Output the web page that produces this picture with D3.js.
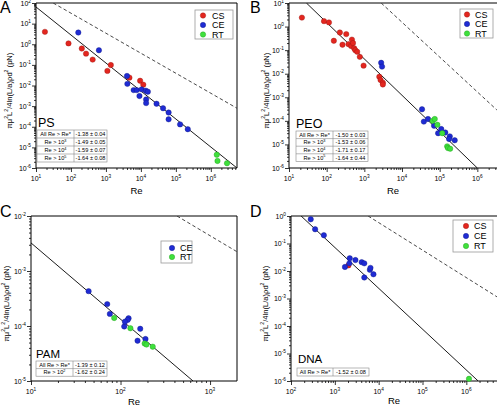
<!DOCTYPE html>
<html><head><meta charset="utf-8">
<script src="https://cdnjs.cloudflare.com/ajax/libs/d3/7.8.5/d3.min.js"></script>
<style>
body{margin:0;background:#fff}
svg{display:block}
text{font-family:"Liberation Sans",Arial,Helvetica,sans-serif;fill:#000}
</style>
</head><body>
<svg id="chart" width="497" height="406"></svg>
<script>
// ---------------- DATA ----------------
const seriesNames = ["CS", "CE", "RT"];
// Panel A: PS   [Re, value]
const psCS = [[18,4.0],[85,1.1],[204,0.62],[270,0.35],[417,0.18],[1100,0.051],[1380,0.098],[4700,0.024],[9500,0.017],[11700,0.011]];
const psCE = [[162,3.7],[630,0.51],[4000,0.029],[4100,0.012],[6200,0.006],[7600,0.006],[9100,0.0031],[10500,0.0065],[13800,0.0056],[15800,0.005],[14100,0.0021],[14100,0.0014],[28000,0.0013],[43000,0.00079],[62000,0.00049],[62000,0.00023],[132000,0.00013],[219000,0.000076]];
const psRT = [[1.48e6,4.4e-6],[1.55e6,2.2e-6],[2.9e6,1.7e-6]];
const psFit = [[10,64],[5.6e6,1e-6]];
const psRef = [[31,100],[5.6e6,7.9e-4]];
const psRows = ["All Re > Re*", "Re > 10^3", "Re > 10^4", "Re > 10^5"];
const psSlopes = ["-1.38 ± 0.04", "-1.49 ± 0.05", "-1.59 ± 0.07", "-1.64 ± 0.08"];

// Panel B: PEO
const peoCS = [[22,2.4],[85,1.7],[115,1.5],[155,0.25],[224,0.56],[263,0.17],[331,0.48],[380,0.18],[447,0.15],[468,0.28],[501,0.2],[537,0.12],[575,0.1],[646,0.085],[759,0.052],[955,0.022],[2500,0.0074],[2700,0.0054],[3100,0.0042],[3100,0.0035]];
const peoCE = [[2800,0.029],[2950,0.02],[34000,0.00031],[38000,0.000093],[49000,0.00012],[71000,0.000062],[91000,0.00003],[110000,0.000045],[141000,0.000032],[186000,0.000022],[178000,0.000017],[251000,0.000015]];
const peoRT = [[65000,0.0001],[74000,0.00012],[87000,0.000068],[117000,0.00003],[158000,0.0000083],[166000,0.000007],[190000,0.0000066]];
const peoFit = [[29,10],[1e6,1e-6]];
const peoRef = [[2800,10],[3.3e6,2.9e-4]];
const peoRows = ["All Re > Re*", "Re > 10^3", "Re > 10^4", "Re > 10^5"];
const peoSlopes = ["-1.50 ± 0.03", "-1.53 ± 0.06", "-1.71 ± 0.17", "-1.64 ± 0.44"];

// Panel C: PAM
const pamCE = [[44,0.00043],[71,0.00025],[76,0.000166],[110,0.000098],[123,0.000138],[120,0.000129],[112,0.00012],[166,0.000089],[155,0.000054],[190,0.000058]];
const pamRT = [[85,0.00014],[129,0.000091],[186,0.000048],[195,0.000046],[229,0.000042]];
const pamFit = [[10,0.00324],[646,1e-5]];
const pamRef = [[427,0.01],[2000,0.00224]];
const pamRows = ["All Re > Re*", "Re > 10^2"];
const pamSlopes = ["-1.39 ± 0.12", "-1.62 ± 0.24"];

// Panel D: DNA
const dnaCS = [[2040,0.016]];
const dnaCE = [[282,0.76],[355,0.33],[562,0.2],[1700,0.014],[2140,0.019],[2190,0.029],[2950,0.025],[4100,0.021],[4700,0.019],[4700,0.0058],[6300,0.011],[6500,0.013],[7600,0.0076]];
const dnaRT = [[1.15e6,1.2e-6]];
const dnaFit = [[170,1],[1.86e6,1e-6]];
const dnaRef = [[5750,1],[5e6,0.00115]];
const dnaRows = ["All Re > Re*"];
const dnaSlopes = ["-1.52 ± 0.08"];

// ---------------- STYLE / LAYOUT ----------------
const colors = {CS:"#e3261f", CE:"#1f2bd4", RT:"#3fe03c"};
const strokeColors = {CS:"#9a1410", CE:"#101a80", RT:"#1f9a1c"};

const panels = [
  {letter:"A", name:"PS", left:36, right:237, top:3, bottom:168, xDom:[10,5.6e6], yDom:[1e-6,100],
   series:{CS:psCS, CE:psCE, RT:psRT}, fit:psFit, ref:psRef, rows:psRows, slopes:psSlopes,
   legend:{x:195,y:10,w:38,h:29,cx:203,tx:212,ys:[15.5,25,34.5], names:["CS","CE","RT"]},
   table:{x:37,y:130,w:70,div:74,rh:8}, nameX:38, nameY:127, nameSize:12.5,
   letterX:0, letterY:13, ytX:9, xtY:194, rightFrame:true},
  {letter:"B", name:"PEO", left:289, right:499, top:3, bottom:168, xDom:[10,3.76e6], yDom:[1e-6,10],
   series:{CS:peoCS, CE:peoCE, RT:peoRT}, fit:peoFit, ref:peoRef, rows:peoRows, slopes:peoSlopes,
   legend:{x:460,y:9,w:33,h:29,cx:467,tx:475,ys:[14.5,24,33.5], names:["CS","CE","RT"]},
   table:{x:296,y:131,w:72,div:333,rh:7.6}, nameX:296, nameY:128, nameSize:12.5,
   letterX:250, letterY:13, ytX:266, xtY:194, rightFrame:false},
  {letter:"C", name:"PAM", left:31, right:237, top:216, bottom:381, xDom:[10,2000], yDom:[1e-5,1e-2],
   series:{CE:pamCE, RT:pamRT}, fit:pamFit, ref:pamRef, rows:pamRows, slopes:pamSlopes,
   legend:{x:161,y:241,w:31,h:22,cx:172,tx:180,ys:[248,257], names:["CE","RT"]},
   table:{x:36,y:361,w:71,div:73,rh:7.6}, nameX:36, nameY:358, nameSize:11.5,
   letterX:0, letterY:217, ytX:6, xtY:405, rightFrame:true},
  {letter:"D", name:"DNA", left:291, right:499, top:216, bottom:381, xDom:[100,5.56e6], yDom:[1e-6,1],
   series:{CS:dnaCS, CE:dnaCE, RT:dnaRT}, fit:dnaFit, ref:dnaRef, rows:dnaRows, slopes:dnaSlopes,
   legend:{x:453,y:220,w:40,h:32,cx:466,tx:474,ys:[226,236,246], names:["CS","CE","RT"]},
   table:{x:297,y:368,w:72,div:333,rh:8}, nameX:298, nameY:363, nameSize:11.5,
   letterX:250, letterY:217, ytX:265, xtY:404, rightFrame:false}
];

const svg = d3.select("#chart");

// rich text helper: parts are strings or {sup:"..."}
function rich(textSel, parts, fs) {
  let shift = 0;
  parts.forEach(p => {
    const sup = typeof p === "object";
    const target = sup ? -fs * 0.42 : 0;
    textSel.append("tspan")
      .attr("dy", target - shift)
      .attr("font-size", sup ? fs * 0.68 : fs)
      .text(sup ? p.sup : p);
    shift = target;
  });
}
function parseSup(str) {
  const m = str.split("^");
  if (m.length === 1) return [str];
  return [m[0], {sup:m[1]}];
}

const yTitle = ["πμ", {sup:"2"}, "L", {sup:"2"}, "/4ln(L/a)ρd", {sup:"2"}, " (pN)"];

panels.forEach(p => {
  const g = svg.append("g");
  const x = d3.scaleLog().domain(p.xDom).range([p.left, p.right]);
  const y = d3.scaleLog().domain(p.yDom).range([p.bottom, p.top]);
  const clipId = "clip" + p.letter;
  svg.append("clipPath").attr("id", clipId).append("rect")
    .attr("x", p.left).attr("y", p.top).attr("width", p.right - p.left).attr("height", p.bottom - p.top);

  // ticks
  const lx0 = Math.ceil(Math.log10(p.xDom[0]) - 1e-9), lx1 = Math.floor(Math.log10(p.xDom[1]) + 1e-9);
  const ly0 = Math.ceil(Math.log10(p.yDom[0]) - 1e-9), ly1 = Math.floor(Math.log10(p.yDom[1]) + 1e-9);
  const xMaj = d3.range(lx0, lx1 + 1);
  const yMaj = d3.range(ly0, ly1 + 1);
  const minors = (dom) => {
    const out = [];
    for (let e = Math.floor(Math.log10(dom[0])); e <= Math.ceil(Math.log10(dom[1])); e++)
      for (let k = 2; k <= 9; k++) { const v = k * 10 ** e; if (v > dom[0] && v < dom[1]) out.push(v); }
    return out;
  };

  const xa = g.append("g").attr("transform", `translate(0,${p.bottom})`)
    .call(d3.axisBottom(x).tickValues(minors(p.xDom)).tickSize(2).tickSizeOuter(0).tickFormat(""));
  xa.select(".domain").remove();
  const xb = g.append("g").attr("transform", `translate(0,${p.bottom})`)
    .call(d3.axisBottom(x).tickValues(xMaj.map(e => 10 ** e)).tickSize(4).tickSizeOuter(0).tickFormat(""));
  xb.select(".domain").remove();
  const ya = g.append("g").attr("transform", `translate(${p.left},0)`)
    .call(d3.axisLeft(y).tickValues(minors(p.yDom)).tickSize(2).tickSizeOuter(0).tickFormat(""));
  ya.select(".domain").remove();
  const yb = g.append("g").attr("transform", `translate(${p.left},0)`)
    .call(d3.axisLeft(y).tickValues(yMaj.map(e => 10 ** e)).tickSize(4).tickSizeOuter(0).tickFormat(""));
  yb.select(".domain").remove();
  g.selectAll(".tick line").attr("stroke", "#000").attr("stroke-width", 0.8);

  xMaj.forEach(e => {
    const t = g.append("text").attr("x", x(10 ** e)).attr("y", p.bottom + 13)
      .attr("text-anchor", "middle");
    rich(t, ["10", {sup:String(e)}], 7);
  });
  yMaj.forEach(e => {
    const t = g.append("text").attr("x", p.left - 5).attr("y", y(10 ** e) + 2.5)
      .attr("text-anchor", "end");
    rich(t, ["10", {sup:String(e)}], 7);
  });

  // frame
  g.append("path")
    .attr("d", p.rightFrame
      ? `M${p.left},${p.top}H${p.right}V${p.bottom}H${p.left}Z`
      : `M${p.right},${p.top}H${p.left}V${p.bottom}H${p.right}`)
    .attr("fill", "none").attr("stroke", "#000").attr("stroke-width", 1);

  // lines
  const line = d3.line().x(d => x(d[0])).y(d => y(d[1]));
  g.append("path").datum(p.ref).attr("d", line).attr("clip-path", `url(#${clipId})`)
    .attr("fill", "none").attr("stroke", "#333").attr("stroke-width", 0.9).attr("stroke-dasharray", "3.5,2.5");
  g.append("path").datum(p.fit).attr("d", line).attr("clip-path", `url(#${clipId})`)
    .attr("fill", "none").attr("stroke", "#000").attr("stroke-width", 0.9);

  // points
  seriesNames.forEach(s => {
    const data = p.series[s];
    if (!data) return;
    g.selectAll(null).data(data).enter().append("circle")
      .attr("cx", d => x(d[0])).attr("cy", d => y(d[1])).attr("r", 2.7)
      .attr("fill", colors[s]).attr("stroke", strokeColors[s]).attr("stroke-width", 0.4);
  });

  // legend
  const L = p.legend;
  g.append("rect").attr("x", L.x).attr("y", L.y).attr("width", L.w).attr("height", L.h)
    .attr("fill", "#fff").attr("stroke", "#999").attr("stroke-width", 0.8);
  L.names.forEach((s, i) => {
    g.append("circle").attr("cx", L.cx).attr("cy", L.ys[i]).attr("r", 2.7)
      .attr("fill", colors[s]).attr("stroke", strokeColors[s]).attr("stroke-width", 0.4);
    g.append("text").attr("x", L.tx).attr("y", L.ys[i] + 3.3).attr("font-size", 9).text(s);
  });

  // polymer name
  g.append("text").attr("x", p.nameX).attr("y", p.nameY).attr("font-size", p.nameSize).text(p.name);

  // table
  const T = p.table;
  const th = T.rh * p.rows.length;
  g.append("rect").attr("x", T.x).attr("y", T.y).attr("width", T.w).attr("height", th)
    .attr("fill", "#fff").attr("stroke", "#888").attr("stroke-width", 0.6);
  g.append("line").attr("x1", T.div).attr("x2", T.div).attr("y1", T.y).attr("y2", T.y + th)
    .attr("stroke", "#888").attr("stroke-width", 0.6);
  p.rows.forEach((r, i) => {
    if (i > 0) g.append("line").attr("x1", T.x).attr("x2", T.x + T.w)
      .attr("y1", T.y + i * T.rh).attr("y2", T.y + i * T.rh).attr("stroke", "#888").attr("stroke-width", 0.6);
    const cy = T.y + (i + 0.5) * T.rh + 2;
    const t1 = g.append("text").attr("x", (T.x + T.div) / 2).attr("y", cy).attr("text-anchor", "middle");
    rich(t1, parseSup(r), 5.6);
    g.append("text").attr("x", (T.div + T.x + T.w) / 2).attr("y", cy).attr("text-anchor", "middle")
      .attr("font-size", 5.6).text(p.slopes[i]);
  });

  // axis titles
  g.append("text").attr("x", (p.left + Math.min(p.right, 497)) / 2).attr("y", p.xtY)
    .attr("text-anchor", "middle").attr("font-size", 9.5).text("Re");
  const yt = g.append("text").attr("text-anchor", "middle")
    .attr("transform", `translate(${p.ytX + 2.5},${(p.top + p.bottom) / 2 + 5}) rotate(-90)`);
  rich(yt, yTitle, 7.6);

  // panel letter
  svg.append("text").attr("x", p.letterX).attr("y", p.letterY).attr("font-size", 16).text(p.letter);
});
</script>
</body></html>
